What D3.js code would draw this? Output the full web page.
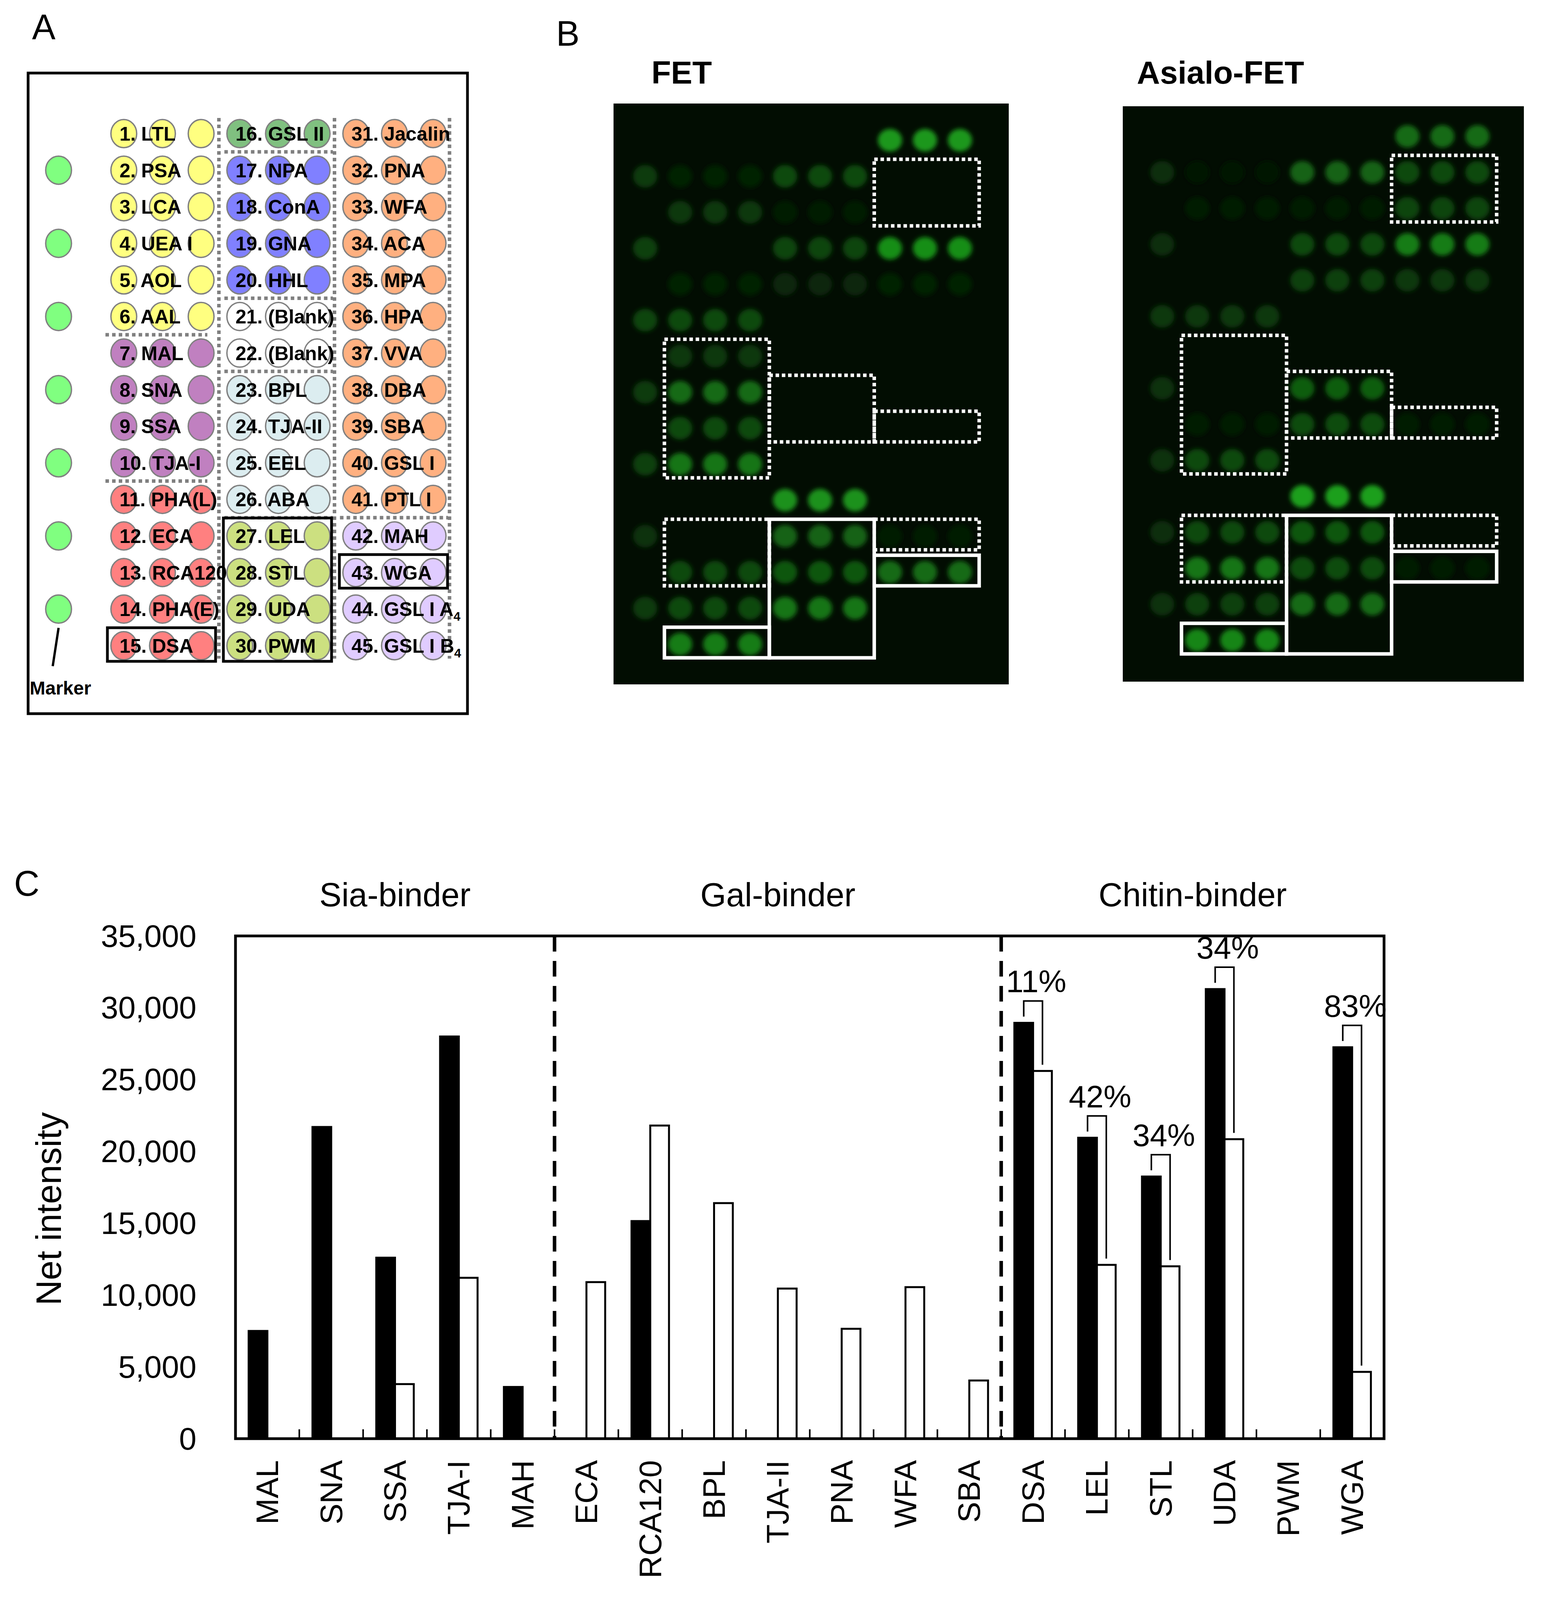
<!DOCTYPE html>
<html>
<head>
<meta charset="utf-8">
<script src="https://cdn.jsdelivr.net/npm/d3@7"></script>
<style>
  body { margin: 0; background: #fff; }
  text { font-family: "Liberation Sans", Arial, Helvetica, sans-serif; }
</style>
</head>
<body>
<svg id="fig"></svg>
<script>
// ---- panel A / B: array layout (45 lectins, 3 spots each) ----
const arrayLectins = ["LTL","PSA","LCA","UEA I","AOL","AAL","MAL","SNA","SSA","TJA-I","PHA(L)","ECA","RCA120","PHA(E)","DSA",
  "GSL II","NPA","ConA","GNA","HHL","(Blank)","(Blank)","BPL","TJA-II","EEL","ABA","LEL","STL","UDA","PWM",
  "Jacalin","PNA","WFA","ACA","MPA","HPA","VVA","DBA","SBA","GSL I","PTL I","MAH","WGA","GSL I A4","GSL I B4"];
const arrayFamily = ["fuc","fuc","fuc","fuc","fuc","fuc","sia","sia","sia","sia","galnac","galnac","galnac","galnac","galnac",
  "glcnac","man","man","man","man","blank","blank","gal","gal","gal","gal","chitin","chitin","chitin","chitin",
  "galnac2","galnac2","galnac2","galnac2","galnac2","galnac2","galnac2","galnac2","galnac2","galnac2","galnac2","misc","misc","misc","misc"];
const familyNames = ["fuc","sia","galnac","glcnac","man","blank","gal","chitin","galnac2","misc"];
const familyColors = ["#ffff80","#c080c0","#ff8080","#80c080","#8080ff","#ffffff","#dcedf0","#cce080","#ffb080","#e0ccff"];
const markerRows = [2,4,6,8,10,12,14];

// dotted separators (group, after row) and black boxes in panel A
const aSeparators = [[0,5],[0,9],[1,0],[1,4],[1,6],[1,10],[2,10]];
const aBoxes = [[0,14,14],[1,11,14],[2,12,12]];

// spot intensities (0 = none, 1 = saturated)
const fetSpots = [0,0.08,0.2,0,0.08,0.3,0.2,0.5,0.3,0.55,0,0,0.3,0.3,0.6,
  0,0.3,0.06,0.28,0.1,0,0,0,0,0,0.72,0.45,0.38,0.55,0,
  0.75,0,0,0.7,0.08,0,0,0,0,0,0,0.04,0.5,0,0];
const fetMarkers = [0,0.22,0,0.25,0,0.28,0,0.22,0,0.25,0,0.18,0,0.22,0];
const asialoSpots = [0,0.03,0.05,0,0,0.2,0,0,0.05,0.3,0,0.3,0.55,0.25,0.65,
  0,0.45,0.04,0.3,0.25,0,0,0.42,0.32,0,0.8,0.38,0.32,0.5,0,
  0.5,0.3,0.28,0.6,0.2,0,0,0,0.06,0,0,0,0.06,0,0];
const asialoMarkers = [0,0.15,0,0.15,0,0.2,0,0.18,0,0.18,0,0.15,0,0.18,0];
// boxes on the scans: [col0, col1, row0, row1]
const bDotted = [[7,9,1,2],[1,3,6,9],[4,6,7,8],[7,9,8,8],[1,3,11,12],[7,9,11,11]];
const bSolid = [[4,6,11,14],[7,9,12,12],[1,3,14,14]];

// ---- panel C: net intensity ----
const lectins = ["MAL","SNA","SSA","TJA-I","MAH","ECA","RCA120","BPL","TJA-II","PNA","WFA","SBA","DSA","LEL","STL","UDA","PWM","WGA"];
const fetValues    = [7500,21700,12600,28000,3600,0,15150,0,0,0,0,0,28950,20950,18250,31300,0,27250];
const asialoValues = [0,0,3800,11200,0,10900,21800,16400,10450,7650,10550,4050,25600,12100,12000,20850,0,4650];
const binderNames = ["Sia-binder","Gal-binder","Chitin-binder"];
const binderFirst = ["MAL","ECA","DSA"];
const binderLast  = ["MAH","SBA","WGA"];
const reductionLectins = ["DSA","LEL","STL","UDA","WGA"];
const reductionLabels  = ["11%","42%","34%","34%","83%"];
const yTicks = [0,5000,10000,15000,20000,25000,30000,35000];

const W = 3951, H = 4224;
const svg = d3.select("#fig").attr("width", W).attr("height", H);
svg.append("rect").attr("width", W).attr("height", H).attr("fill", "#fff");

const defs = svg.append("defs");
defs.append("filter").attr("id", "blur")
    .attr("x", "-60%").attr("y", "-60%").attr("width", "220%").attr("height", "220%")
  .append("feGaussianBlur").attr("stdDeviation", 6);

// panel letters
svg.append("text").attr("x", 82).attr("y", 100).attr("font-size", 90).text("A");
svg.append("text").attr("x", 1424).attr("y", 117).attr("font-size", 90).text("B");
svg.append("text").attr("x", 36).attr("y", 2293).attr("font-size", 90).text("C");

// ================= Panel A =================
const famColor = d3.scaleOrdinal().domain(familyNames).range(familyColors);
const aCol = d3.scaleLinear().domain([0, 8]).range([317, 1109]);
const aRow = d3.scaleLinear().domain([0, 14]).range([342, 1653]);
const markerX = 150;
const gA = svg.append("g");

gA.append("rect").attr("x", 72).attr("y", 187).attr("width", 1125).attr("height", 1640)
  .attr("fill", "none").attr("stroke", "#000").attr("stroke-width", 7);

const spotsA = [];
arrayLectins.forEach((name, i) => {
  const g = Math.floor(i / 15), r = i % 15;
  for (let k = 0; k < 3; k++) spotsA.push({ c: 3 * g + k, r, fam: arrayFamily[i] });
});
gA.selectAll("ellipse.spot").data(spotsA).enter().append("ellipse")
  .attr("cx", d => aCol(d.c)).attr("cy", d => aRow(d.r))
  .attr("rx", 33).attr("ry", 36)
  .attr("fill", d => famColor(d.fam)).attr("stroke", "#808080").attr("stroke-width", 3.5);

gA.selectAll("ellipse.marker").data(markerRows).enter().append("ellipse")
  .attr("cx", markerX).attr("cy", d => aRow(d - 1))
  .attr("rx", 33).attr("ry", 36)
  .attr("fill", "#80ff80").attr("stroke", "#808080").attr("stroke-width", 3.5);

// dotted separators
const grey = "#808080";
const vSep = [(aCol(2) + aCol(3)) / 2 - 4, (aCol(5) + aCol(6)) / 2 - 5, aCol(8) + 42];
gA.selectAll("line.vsep").data(vSep).enter().append("line")
  .attr("x1", d => d).attr("x2", d => d)
  .attr("y1", aRow(0) - 40).attr("y2", aRow(14) + 33)
  .attr("stroke", grey).attr("stroke-width", 9).attr("stroke-dasharray", "9,8");
const hRange = g => g === 0 ? [aCol(0) - 47, aCol(2) + 16] : [vSep[g - 1] + 14, vSep[g] - 4];
gA.selectAll("line.hsep").data(aSeparators).enter().append("line")
  .attr("x1", d => hRange(d[0])[0]).attr("x2", d => hRange(d[0])[1])
  .attr("y1", d => (aRow(d[1]) + aRow(d[1] + 1)) / 2).attr("y2", d => (aRow(d[1]) + aRow(d[1] + 1)) / 2)
  .attr("stroke", grey).attr("stroke-width", 9).attr("stroke-dasharray", "9,8");

// labels
const lab = gA.selectAll("text.lab").data(arrayLectins).enter().append("text")
  .attr("x", (d, i) => aCol(3 * Math.floor(i / 15)) - 11)
  .attr("y", (d, i) => aRow(i % 15) + 18)
  .attr("font-size", 50).attr("font-weight", "bold");
lab.each(function(d, i) {
  const t = d3.select(this);
  const sub = /[AB]4$/.test(d);
  t.append("tspan").text(`${i + 1}. ` + (sub ? d.slice(0, -1) : d));
  if (sub) t.append("tspan").attr("font-size", 32).attr("dy", 12).text("4");
});

// black boxes
gA.selectAll("rect.box").data(aBoxes).enter().append("rect")
  .attr("x", d => aCol(3 * d[0]) - 42)
  .attr("y", d => aRow(d[1]) - 46)
  .attr("width", d => aCol(3 * d[0] + 2) + 37 - (aCol(3 * d[0]) - 42))
  .attr("height", d => aRow(d[2]) + 40 - (aRow(d[1]) - 46))
  .attr("fill", "none").attr("stroke", "#000").attr("stroke-width", 7);

// marker pointer
gA.append("line").attr("x1", markerX).attr("y1", aRow(13) + 48)
  .attr("x2", markerX - 15).attr("y2", aRow(13) + 146)
  .attr("stroke", "#000").attr("stroke-width", 6);
gA.append("text").attr("x", 76).attr("y", 1778).attr("font-size", 48)
  .attr("font-weight", "bold").text("Marker");

// ================= Panel B =================
const glow = d3.scaleLinear().domain([0, 1]).range(["#041404", "#22c222"]);

function drawScan(title, frame, xr, yr, titleX, spots, markers) {
  const g = svg.append("g");
  const x = d3.scaleLinear().domain([0, 9]).range(xr);
  const y = d3.scaleLinear().domain([0, 14]).range(yr);
  g.append("text").attr("x", titleX).attr("y", 214).attr("font-size", 82)
    .attr("font-weight", "bold").text(title);
  g.append("rect").attr("x", frame[0]).attr("y", frame[1])
    .attr("width", frame[2] - frame[0]).attr("height", frame[3] - frame[1])
    .attr("fill", "#020d02");
  const pts = [];
  spots.forEach((v, i) => {
    const grp = Math.floor(i / 15), r = i % 15;
    for (let k = 0; k < 3; k++) pts.push({ c: 1 + 3 * grp + k, r, v });
  });
  markers.forEach((v, r) => pts.push({ c: 0, r, v }));
  g.selectAll("ellipse").data(pts.filter(d => d.v > 0)).enter().append("ellipse")
    .attr("cx", d => x(d.c)).attr("cy", d => y(d.r))
    .attr("rx", 31).attr("ry", 29)
    .attr("fill", d => glow(d.v)).attr("filter", "url(#blur)");
  const boxAttr = (sel) => sel
    .attr("x", d => x(d[0] - 0.45)).attr("y", d => y(d[2] - 0.47))
    .attr("width", d => x(d[1] + 0.55) - x(d[0] - 0.45))
    .attr("height", d => y(d[3] + 0.38) - y(d[2] - 0.47))
    .attr("fill", "none").attr("stroke", "#fff").attr("stroke-width", 9);
  g.selectAll("rect.dot").data(bDotted).enter().append("rect").call(boxAttr)
    .attr("stroke-dasharray", "9,7");
  g.selectAll("rect.sol").data(bSolid).enter().append("rect").call(boxAttr);
}
drawScan("FET", [1571, 265, 2583, 1752], [1652, 2458], [359, 1649], 1668, fetSpots, fetMarkers);
drawScan("Asialo-FET", [2875, 272, 3902, 1745], [2976, 3783], [349, 1639], 2911, asialoSpots, asialoMarkers);

// ================= Panel C =================
const plot = { left: 603, right: 3544, top: 2396, bottom: 3683 };
const x = d3.scaleBand().domain(lectins).range([plot.left, plot.right]);
const y = d3.scaleLinear().domain([0, 35000]).range([plot.bottom, plot.top]);
const gC = svg.append("g");
const barW = 48;
const cx = d => x(d) + x.bandwidth() / 2;

// y tick labels
gC.selectAll("text.ytick").data(yTicks).enter().append("text")
  .attr("x", plot.left - 100).attr("y", d => y(d))
  .attr("text-anchor", "end").attr("dominant-baseline", "central")
  .attr("font-size", 80).text(d3.format(","));

// inner tick marks at band boundaries
gC.selectAll("line.xtick").data(lectins.slice(1)).enter().append("line")
  .attr("x1", d => x(d)).attr("x2", d => x(d))
  .attr("y1", plot.bottom).attr("y2", plot.bottom - 24)
  .attr("stroke", "#000").attr("stroke-width", 4);

// group dividers
gC.selectAll("line.div").data(binderFirst.slice(1)).enter().append("line")
  .attr("x1", d => x(d)).attr("x2", d => x(d))
  .attr("y1", plot.top).attr("y2", plot.bottom)
  .attr("stroke", "#000").attr("stroke-width", 9).attr("stroke-dasharray", "40,24");

// bars
gC.selectAll("rect.fet").data(lectins.map((l, i) => [l, fetValues[i]]).filter(d => d[1] > 0))
  .enter().append("rect")
  .attr("x", d => cx(d[0]) - barW).attr("y", d => y(d[1]))
  .attr("width", barW).attr("height", d => y(0) - y(d[1]))
  .attr("fill", "#000").attr("stroke", "#000").attr("stroke-width", 5);
gC.selectAll("rect.asialo").data(lectins.map((l, i) => [l, asialoValues[i]]).filter(d => d[1] > 0))
  .enter().append("rect")
  .attr("x", d => cx(d[0])).attr("y", d => y(d[1]))
  .attr("width", barW).attr("height", d => y(0) - y(d[1]))
  .attr("fill", "#fff").attr("stroke", "#000").attr("stroke-width", 5);

// frame
gC.append("rect").attr("x", plot.left).attr("y", plot.top)
  .attr("width", plot.right - plot.left).attr("height", plot.bottom - plot.top)
  .attr("fill", "none").attr("stroke", "#000").attr("stroke-width", 7);

// reduction brackets
reductionLectins.forEach((l, k) => {
  const i = lectins.indexOf(l);
  const xb = cx(l) - barW / 2, xw = cx(l) + barW / 2;
  const yb = y(fetValues[i]), yw = y(asialoValues[i]);
  const top = yb - 56;
  gC.append("path")
    .attr("d", `M${xb},${yb - 16}V${top}H${xw}V${yw - 16}`)
    .attr("fill", "none").attr("stroke", "#000").attr("stroke-width", 4);
  gC.append("text").attr("x", cx(l) + 8).attr("y", top - 22)
    .attr("text-anchor", "middle").attr("font-size", 80).text(reductionLabels[k]);
});

// x category labels
gC.selectAll("text.xlab").data(lectins).enter().append("text")
  .attr("transform", d => `translate(${cx(d)},${plot.bottom + 55}) rotate(-90)`)
  .attr("text-anchor", "end").attr("dominant-baseline", "central")
  .attr("font-size", 80).text(d => d);

// binder group titles
binderNames.forEach((n, k) => {
  const x0 = x(binderFirst[k]), x1 = x(binderLast[k]) + x.bandwidth();
  gC.append("text").attr("x", (x0 + x1) / 2).attr("y", 2320)
    .attr("text-anchor", "middle").attr("font-size", 85).text(n);
});

// axis titles
gC.append("text").attr("transform", `translate(125,${(plot.top + plot.bottom) / 2 + 55}) rotate(-90)`)
  .attr("text-anchor", "middle").attr("dominant-baseline", "central")
  .attr("font-size", 90).text("Net intensity");
gC.append("text").attr("x", (plot.left + plot.right) / 2 + 35).attr("y", 4188)
  .attr("text-anchor", "middle").attr("font-size", 90).text("Lectins");
</script>
</body>
</html>
